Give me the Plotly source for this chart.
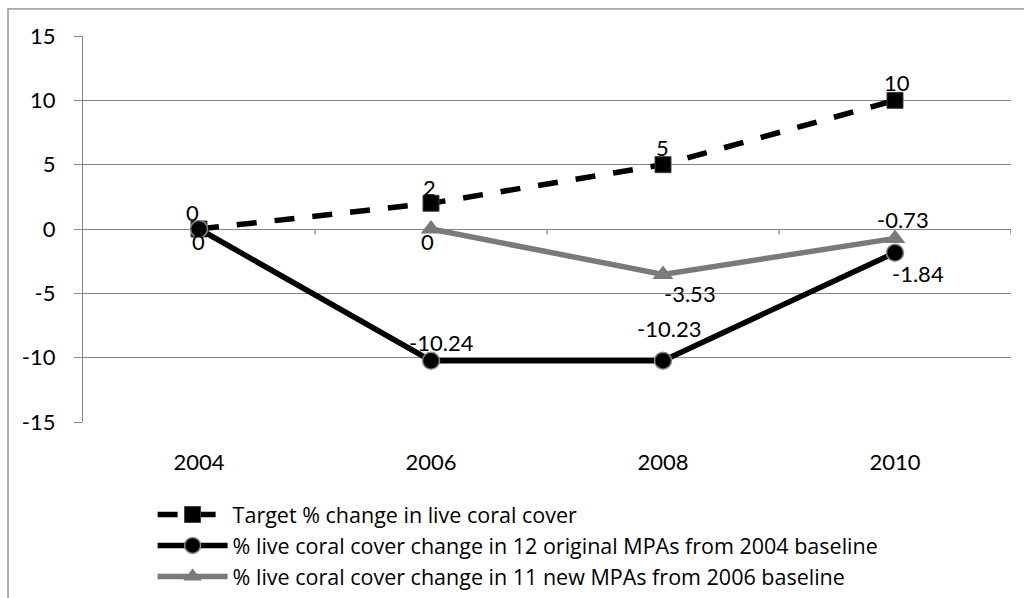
import plotly.graph_objects as go

years = ["2004", "2006", "2008", "2010"]
target = [0, 2, 5, 10]
original = [0, -10.24, -10.23, -1.84]
new_mpa = [None, 0, -3.53, -0.73]
y_ticks = [-15, -10, -5, 0, 5, 10, 15]

names = [
    "Target % change in live coral cover",
    "% live coral cover change in 12 original MPAs from 2004 baseline",
    "% live coral cover change in 11 new MPAs from 2006 baseline",
]

# label offsets (style only): (xshift, yshift) per point
target_off = [(-7, 17), (-2, 16), (-1, 17), (2, 18)]
original_off = [(-1, -12), (10, 18), (6, 32), (23, -21)]
new_off = [None, (-4, -12), (27, -19), (8, 19)]

FONT = "Lato"
FS = 22
GRID = "#878787"
GRAY = "#7a7a7a"

xpos = list(range(len(years)))

fig = go.Figure()
fig.add_trace(go.Scatter(
    x=xpos, y=target, name=names[0], mode="lines+markers",
    line=dict(color="black", width=5.5, dash="20px,18px"),
    marker=dict(symbol="square", size=16, color="black", line=dict(color="#404040", width=1)),
))
fig.add_trace(go.Scatter(
    x=xpos, y=original, name=names[1], mode="lines+markers",
    line=dict(color="black", width=5.5),
    marker=dict(symbol="circle", size=17, color="black", line=dict(color="#8a8a8a", width=1.5)),
))
fig.add_trace(go.Scatter(
    x=xpos, y=new_mpa, name=names[2], mode="lines+markers",
    line=dict(color=GRAY, width=5.5),
    marker=dict(symbol="triangle-up", size=18, color=GRAY, line=dict(color=GRAY, width=0)),
))

def fmt(v):
    return f"{v:g}"

annotations = []
for series, offs in ((target, target_off), (original, original_off), (new_mpa, new_off)):
    for xi, v, off in zip(xpos, series, offs):
        if v is None or off is None:
            continue
        annotations.append(dict(
            x=xi, y=v, xref="x", yref="y", text=fmt(v), showarrow=False,
            xshift=off[0], yshift=off[1],
            font=dict(family=FONT, size=FS, color="black"),
        ))

shapes = []
# small category-boundary tick marks on the zero line
for b in [0.5, 1.5, 2.5, 3.5]:
    shapes.append(dict(type="line", xref="x", yref="y", x0=b, x1=b, y0=0, y1=-0.4,
                       line=dict(color=GRID, width=1.3)))
# outer chart border
shapes.append(dict(type="rect", xref="paper", yref="paper",
                   x0=-0.0808, x1=1.05, y0=-0.52, y1=1.0701,
                   line=dict(color="#868686", width=1.3), fillcolor="rgba(0,0,0,0)", layer="below"))

fig.update_layout(
    width=1024, height=598,
    margin=dict(l=83, r=13, t=36, b=176),
    paper_bgcolor="white", plot_bgcolor="white",
    font=dict(family=FONT, size=FS, color="black"),
    showlegend=True,
    legend=dict(
        x=0.075, y=1 - 494 / 598, xanchor="left", yanchor="top", yref="container",
        font=dict(family="Open Sans", size=21.5, color="black"),
        bgcolor="rgba(0,0,0,0)", itemwidth=70, tracegroupgap=0,
    ),
    annotations=annotations,
    shapes=shapes,
)
fig.update_xaxes(
    range=[-0.5, 3.5], tickvals=xpos, ticktext=years, showgrid=False, zeroline=False,
    showline=False, ticks="", ticklabelstandoff=25,
    tickfont=dict(family=FONT, size=FS, color="black"),
)
fig.update_yaxes(
    range=[-15, 15], tickvals=y_ticks, ticktext=[str(v) for v in y_ticks],
    showgrid=True, gridcolor=GRID, gridwidth=1.3,
    zeroline=True, zerolinecolor=GRID, zerolinewidth=1.3,
    showline=True, linecolor=GRID, linewidth=1.3,
    ticks="outside", ticklen=8, tickcolor=GRID, tickwidth=1.3,
    ticklabelstandoff=14,
    tickfont=dict(family=FONT, size=FS, color="black"),
)

fig.write_html("out.html")
